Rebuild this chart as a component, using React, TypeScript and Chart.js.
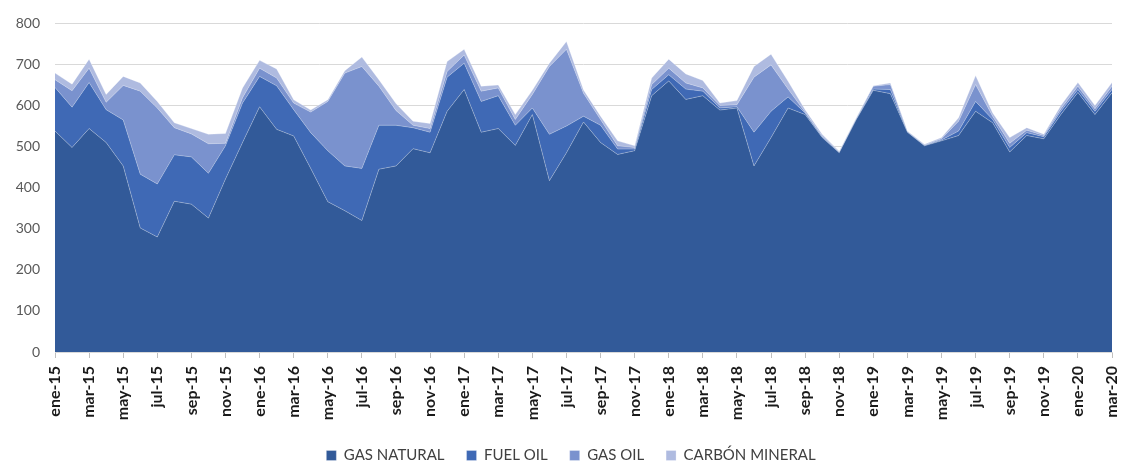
import React, { useEffect, useRef } from "react";
import { Chart, registerables } from "chart.js";

Chart.register(...registerables);

const months: string[] = [
  "ene-15", "feb-15", "mar-15", "abr-15", "may-15", "jun-15", "jul-15", "ago-15", "sep-15", "oct-15", "nov-15", "dic-15",
  "ene-16", "feb-16", "mar-16", "abr-16", "may-16", "jun-16", "jul-16", "ago-16", "sep-16", "oct-16", "nov-16", "dic-16",
  "ene-17", "feb-17", "mar-17", "abr-17", "may-17", "jun-17", "jul-17", "ago-17", "sep-17", "oct-17", "nov-17", "dic-17",
  "ene-18", "feb-18", "mar-18", "abr-18", "may-18", "jun-18", "jul-18", "ago-18", "sep-18", "oct-18", "nov-18", "dic-18",
  "ene-19", "feb-19", "mar-19", "abr-19", "may-19", "jun-19", "jul-19", "ago-19", "sep-19", "oct-19", "nov-19", "dic-19",
  "ene-20", "feb-20", "mar-20",
];

const gasNatural: number[] = [
  538, 498, 544, 510, 453, 302, 280, 367, 360, 326, 421, 510,
  597, 542, 526, 447, 366, 344, 320, 445, 453, 495, 485, 586,
  639, 535, 544, 503, 578, 417, 485, 560, 510, 481, 490, 624,
  660, 615, 624, 589, 594, 453, 522, 594, 578, 522, 485, 566,
  637, 629, 535, 502, 514, 527, 586, 558, 487, 527, 519, 578,
  632, 578, 631,
];

const fuelOil: number[] = [
  106, 98, 112, 80, 112, 131, 129, 113, 115, 109, 81, 96,
  74, 106, 64, 87, 124, 109, 127, 107, 99, 51, 50, 83,
  64, 75, 80, 49, 16, 113, 65, 14, 42, 13, 4, 15,
  15, 25, 11, 5, 3, 82, 64, 27, 4, 2, 1, 1,
  3, 10, 1, 1, 2, 11, 24, 8, 11, 7, 5, 8,
  7, 8, 8,
];

const gasOil: number[] = [
  19, 40, 35, 18, 84, 202, 185, 66, 56, 72, 6, 13,
  20, 19, 16, 50, 120, 226, 248, 95, 36, 6, 9, 14,
  20, 25, 19, 14, 33, 165, 187, 56, 14, 8, 4, 12,
  16, 15, 8, 6, 5, 134, 113, 19, 2, 2, 1, 1,
  7, 12, 1, 1, 3, 24, 41, 8, 10, 6, 3, 6,
  8, 6, 8,
];

const carbonMineral: number[] = [
  16, 16, 22, 19, 22, 20, 16, 12, 13, 23, 24, 24,
  19, 22, 8, 5, 4, 6, 23, 16, 17, 10, 12, 24,
  14, 12, 7, 12, 10, 8, 19, 8, 8, 12, 4, 16,
  22, 22, 18, 6, 10, 26, 26, 19, 6, 4, 2, 2,
  1, 4, 1, 2, 3, 8, 22, 8, 14, 6, 3, 8,
  9, 8, 9,
];

const seriesNames: string[] = ["GAS NATURAL", "FUEL OIL", "GAS OIL", "CARBÓN MINERAL"];
const seriesColors: string[] = ["#325A99", "#3F69B5", "#7A92CE", "#AFBBE0"];

const legendShift = {
  id: "legendShift",
  afterLayout(chart: any) {
    const l = chart.legend;
    if (l) {
      l.left += 30;
      l.top -= 6;
      l.bottom -= 6;
    }
  },
};

export default function App() {
  const canvasRef = useRef<HTMLCanvasElement | null>(null);

  useEffect(() => {
    if (!canvasRef.current) return;
    const values = [gasNatural, fuelOil, gasOil, carbonMineral];
    const chart = new Chart(canvasRef.current, {
      type: "line",
      data: {
        labels: months,
        datasets: values.map((d, i) => ({
          label: seriesNames[i],
          data: d,
          backgroundColor: seriesColors[i],
          borderColor: "rgba(255,255,255,0.35)",
          borderWidth: 0.8,
          fill: i === 0 ? "origin" : "-1",
          pointRadius: 0,
          pointHoverRadius: 0,
          tension: 0,
        })),
      },
      plugins: [legendShift],
      options: {
        animation: false,
        responsive: true,
        maintainAspectRatio: false,
        layout: { padding: { top: 23, right: 9, left: 0, bottom: -18 } },
        plugins: {
          tooltip: { enabled: false },
          legend: {
            position: "bottom",
            labels: {
              boxWidth: 10,
              boxHeight: 10,
              padding: 22,
              color: "#404040",
              font: { family: "Lato", size: 15 },
            },
          },
        },
        scales: {
          x: {
            stacked: true,
            offset: false,
            border: { display: true, color: "#d9d9d9", width: 1 },
            grid: {
              drawOnChartArea: false,
              drawTicks: true,
              tickLength: 6,
              color: (ctx: any) => (ctx.index % 2 === 0 ? "#bfbfbf" : "rgba(0,0,0,0)"),
            },
            ticks: {
              autoSkip: false,
              maxRotation: 90,
              minRotation: 90,
              padding: 8,
              color: "#1a1a1a",
              font: { family: "Lato", size: 16, weight: "bold" },
              callback: function (_v: any, index: number) {
                return index % 2 === 0 ? months[index] : "";
              },
            },
            afterFit: (scale: any) => {
              scale.height = 80;
              scale.paddingLeft = 0;
              scale.paddingRight = 0;
            },
          },
          y: {
            stacked: true,
            min: 0,
            max: 800,
            border: { display: false },
            grid: { color: "#d9d9d9", drawTicks: false, lineWidth: 1 },
            ticks: {
              stepSize: 100,
              padding: 15,
              color: "#595959",
              font: { family: "Lato", size: 14 },
            },
            afterFit: (scale: any) => {
              scale.width = 55;
            },
          },
        },
      },
    });
    return () => chart.destroy();
  }, []);

  return (
    <div style={{ position: "absolute", left: 0, top: 0, width: 1121, height: 461 }}>
      <canvas ref={canvasRef} />
    </div>
  );
}
